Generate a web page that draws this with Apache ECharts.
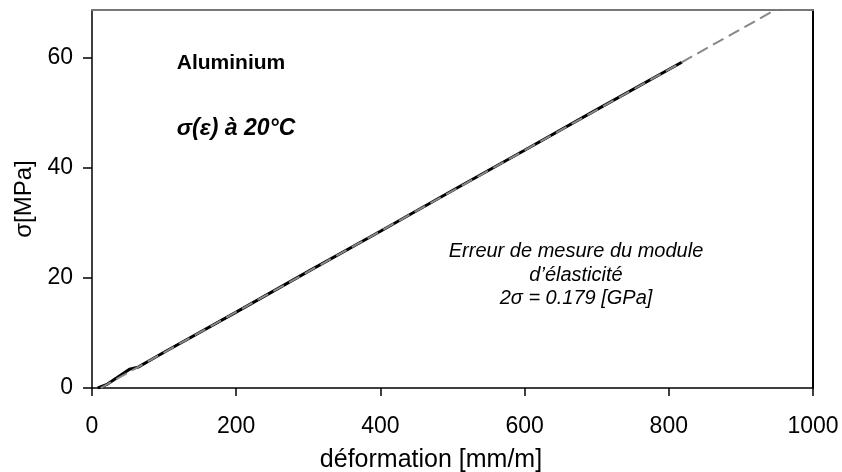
<!DOCTYPE html>
<html>
<head>
<meta charset="utf-8">
<script src="https://cdn.jsdelivr.net/npm/echarts@6/dist/echarts.min.js"></script>
<style>html,body{margin:0;padding:0;background:#fff;}#c{width:842px;height:472px;}</style>
</head>
<body>
<div id="c"></div>
<script>
// measured stress-strain data (strain mm/m, stress MPa)
const strain = [8, 20, 35, 52, 64, 80, 100, 200, 300, 400, 500, 600, 700, 818];
const stress = [0, 0.6, 1.9, 3.4, 3.8, 5.0, 6.5, 13.8, 21.2, 28.5, 35.9, 43.2, 50.6, 59.2];
// linear fit (extrapolated, dashed)
const fitStrain = [12, 950];
const fitStress = [0, 68.9];
const xTicks = [0, 200, 400, 600, 800, 1000];
const yTicks = [0, 20, 40, 60];

const FONT = '"Liberation Sans", Arial, Helvetica, sans-serif';
const chart = echarts.init(document.getElementById('c'), null, {renderer: 'canvas'});
const data = strain.map((x, i) => [x, stress[i]]);
const fit = fitStrain.map((x, i) => [x, fitStress[i]]);

chart.setOption({
  animation: false,
  backgroundColor: '#fff',
  grid: {left: 92, right: 29, top: 10, bottom: 84, containLabel: false, outerBoundsMode: 'none'},
  xAxis: [{
    type: 'value', min: 0, max: 1000, interval: 200,
    name: 'déformation [mm/m]', nameLocation: 'middle', nameGap: 60,
    nameTextStyle: {fontFamily: FONT, fontSize: 25, color: '#000', padding: [0, 43, 0, 0]},
    axisLine: {show: true, onZero: false, lineStyle: {color: '#000', width: 1.5}},
    axisTick: {show: true, inside: false, length: 8, lineStyle: {color: '#000', width: 1.5}},
    axisLabel: {fontFamily: FONT, fontSize: 23, color: '#000', margin: 27,
      formatter: v => xTicks.includes(v) ? String(v) : ''},
    splitLine: {show: false}
  }, {
    type: 'value', position: 'top', min: 0, max: 1000,
    axisLine: {show: true, onZero: false, lineStyle: {color: '#777', width: 2}},
    axisTick: {show: false}, axisLabel: {show: false}, splitLine: {show: false}
  }],
  yAxis: [{
    type: 'value', min: 0, max: 68.7, interval: 20,
    name: 'σ[MPa]', nameLocation: 'middle', nameGap: 56,
    nameTextStyle: {fontFamily: FONT, fontSize: 24, color: '#000'},
    axisLine: {show: true, onZero: false, lineStyle: {color: '#000', width: 1.5}},
    axisTick: {show: true, inside: false, length: 9, lineStyle: {color: '#000', width: 1.5}},
    axisLabel: {fontFamily: FONT, fontSize: 23, color: '#000', margin: 19, showMaxLabel: false,
      formatter: v => yTicks.includes(v) ? String(v) : ''},
    splitLine: {show: false}
  }, {
    type: 'value', position: 'right', min: 0, max: 68.7,
    axisLine: {show: true, onZero: false, lineStyle: {color: '#000', width: 2}},
    axisTick: {show: false}, axisLabel: {show: false}, splitLine: {show: false}
  }],
  series: [{
    name: 'mesure', type: 'line', data: data, showSymbol: false, symbol: 'none',
    lineStyle: {color: '#000', width: 3}, z: 2, clip: true
  }, {
    name: 'fit', type: 'line', data: fit, showSymbol: false, symbol: 'none',
    lineStyle: {color: '#888', width: 2, type: [12, 6]}, z: 3, clip: true
  }],
  graphic: [{
    type: 'text', x: 231, y: 63,
    style: {text: 'Aluminium', font: 'bold 21px ' + FONT, fill: '#000', textAlign: 'center', textVerticalAlign: 'middle'}
  }, {
    type: 'text', x: 236, y: 129,
    style: {text: 'σ(ε) à 20°C', font: 'italic bold 23px ' + FONT, fill: '#000', textAlign: 'center', textVerticalAlign: 'middle'}
  }, {
    type: 'text', x: 576, y: 275,
    style: {text: 'Erreur de mesure du module\nd’élasticité\n2σ = 0.179 [GPa]', font: 'italic 20px ' + FONT,
      lineHeight: 23.5, fill: '#000', textAlign: 'center', textVerticalAlign: 'middle'}
  }]
});
</script>
</body>
</html>
